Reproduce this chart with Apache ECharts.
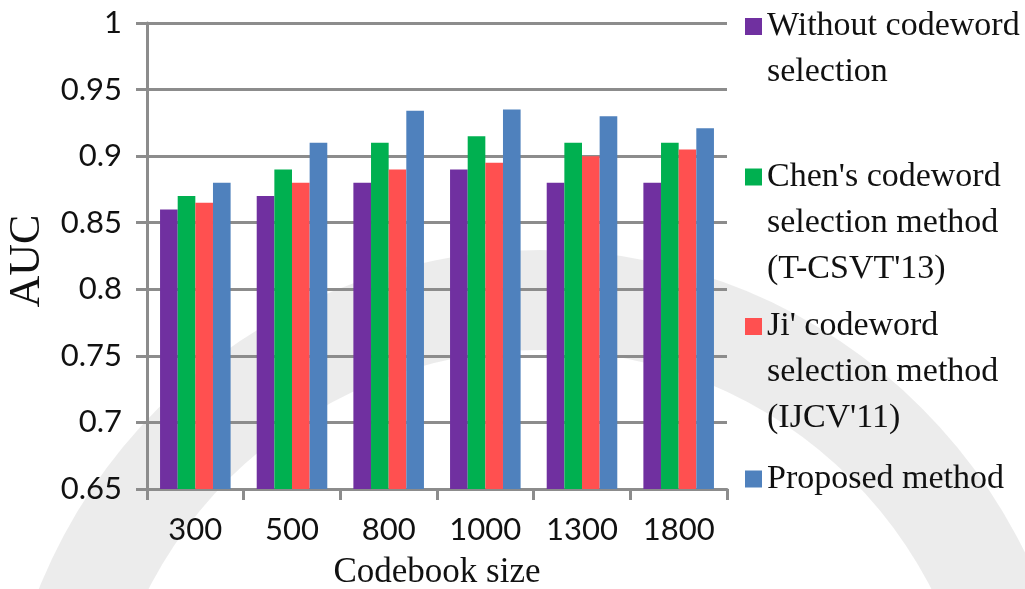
<!DOCTYPE html>
<html>
<head>
<meta charset="utf-8">
<title>AUC vs codebook size</title>
<script src="https://cdn.jsdelivr.net/npm/echarts@6/dist/echarts.min.js"></script>
<style>
  html, body { margin: 0; padding: 0; background: #ffffff; }
  #chart { width: 1025px; height: 589px; }
</style>
</head>
<body>
<div id="chart"></div>
<script>
// Codebook sizes on the x axis
const categories = ['300', '500', '800', '1000', '1300', '1800'];

// AUC for each method
const withoutSelection = [0.860, 0.870, 0.880, 0.890, 0.880, 0.880];
const chenSelection    = [0.870, 0.890, 0.910, 0.915, 0.910, 0.910];
const jiSelection      = [0.865, 0.880, 0.890, 0.895, 0.900, 0.905];
const proposedMethod   = [0.880, 0.910, 0.934, 0.935, 0.930, 0.921];

const seriesNames = [
  'Without codeword selection',
  "Chen's codeword selection method (T-CSVT'13)",
  "Ji' codeword selection method (IJCV'11)",
  'Proposed method'
];
// How each legend entry wraps
const legendLines = [
  ['Without codeword', 'selection'],
  ["Chen's codeword", 'selection method', "(T-CSVT'13)"],
  ["Ji' codeword", 'selection method', "(IJCV'11)"],
  ['Proposed method']
];
const seriesValues = [withoutSelection, chenSelection, jiSelection, proposedMethod];
const colors = ['#7030A0', '#00B050', '#FF5050', '#4F81BD'];

// Y axis ticks
const yMin = 0.65, yMax = 1, yStep = 0.05;

const gridColor = '#8c8c8c';
const LINE_H = 46;
const legendIconCenters = [26.5, 177, 326.5, 479];

const chart = echarts.init(document.getElementById('chart'), null, { renderer: 'canvas' });

// Each legend entry is its own block. Legend text is centred on its marker,
// so blank leading lines put the first text line level with the square.
const legends = seriesNames.map(function (name, i) {
  const lines = legendLines[i];
  const n = lines.length;
  const padded = [];
  for (let k = 1; k < n; k++) padded.push(' ');
  const text = padded.concat(lines).join('\n');
  return {
    orient: 'vertical',
    left: 745,
    top: legendIconCenters[i] - (2 * n - 1) * LINE_H / 2,
    padding: 0,
    itemWidth: 17,
    itemHeight: 17,
    icon: 'rect',
    selectedMode: false,
    data: [name],
    formatter: function () { return text; },
    textStyle: {
      fontFamily: '"Liberation Serif", "Times New Roman", serif',
      fontSize: 34,
      color: '#111111',
      lineHeight: LINE_H
    }
  };
});

const option = {
  animation: false,
  backgroundColor: '#ffffff',
  color: colors,
  // faint background seal ring
  graphic: [{
    type: 'ring',
    z: -10,
    silent: true,
    shape: { cx: 540, cy: 790, r: 540, r0: 440 },
    style: { fill: '#e4e4e4', opacity: 0.7 }
  }],
  legend: legends,
  grid: { left: 147, right: 298, top: 23, bottom: 100, containLabel: false, outerBoundsMode: 'none' },
  xAxis: {
    type: 'category',
    data: categories,
    boundaryGap: true,
    name: 'Codebook size',
    nameLocation: 'middle',
    nameGap: 66,
    nameTextStyle: {
      fontFamily: '"Liberation Serif", "Times New Roman", serif',
      fontSize: 35,
      color: '#111111'
    },
    axisLine: { show: true, lineStyle: { color: gridColor, width: 3 } },
    axisTick: { show: true, length: 11, alignWithLabel: false, lineStyle: { color: gridColor, width: 3 } },
    axisLabel: {
      margin: 25,
      fontFamily: 'Lato, "Liberation Sans", sans-serif',
      fontSize: 31,
      color: '#111111'
    },
    splitLine: { show: false }
  },
  yAxis: {
    type: 'value',
    min: yMin,
    max: yMax,
    interval: yStep,
    name: 'AUC',
    nameLocation: 'middle',
    nameGap: 98,
    nameRotate: 90,
    nameTextStyle: {
      fontFamily: '"Liberation Serif", "Times New Roman", serif',
      fontSize: 44,
      color: '#111111',
      padding: [0, 10, 0, 0]
    },
    axisLine: { show: true, lineStyle: { color: gridColor, width: 3 } },
    axisTick: { show: true, length: 11, lineStyle: { color: gridColor, width: 3 } },
    axisLabel: {
      margin: 25,
      fontFamily: 'Lato, "Liberation Sans", sans-serif',
      fontSize: 31,
      color: '#111111',
      formatter: function (v) { return String(parseFloat(v.toFixed(2))); }
    },
    splitLine: { show: true, lineStyle: { color: gridColor, width: 3 } }
  },
  series: seriesNames.map(function (name, i) {
    return {
      name: name,
      type: 'bar',
      data: seriesValues[i],
      barGap: '0%',
      barCategoryGap: '27%',
      itemStyle: { color: colors[i] }
    };
  })
};

chart.setOption(option);
</script>
</body>
</html>
